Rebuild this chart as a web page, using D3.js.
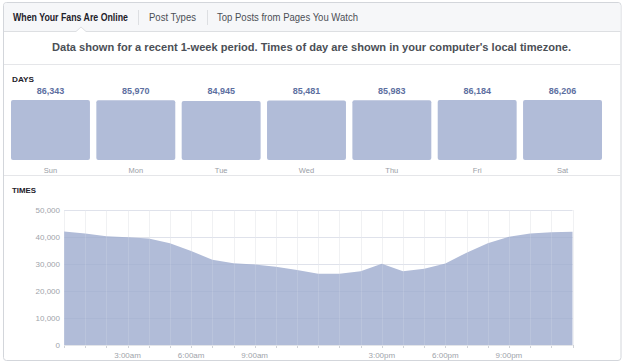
<!DOCTYPE html>
<html><head><meta charset="utf-8">
<script src="https://cdn.jsdelivr.net/npm/d3@7"></script>
<style>
html,body{margin:0;padding:0;background:#fff;}
svg{display:block;font-family:"Liberation Sans",Arial,Helvetica,sans-serif;}
</style></head>
<body>
<script>
const tabs = ["When Your Fans Are Online", "Post Types", "Top Posts from Pages You Watch"];
const note = "Data shown for a recent 1-week period. Times of day are shown in your computer's local timezone.";
const days = ["Sun","Mon","Tue","Wed","Thu","Fri","Sat"];
const dayValues = [86343,85970,84945,85481,85983,86184,86206];
const hours = d3.range(0, 25);
const hourValues = [42000,41300,40300,39900,39400,37700,34800,31600,30300,29800,29000,27800,26400,26400,27300,30100,27300,28200,30200,34200,37700,40100,41300,41800,41900];
const yTicks = [0,10000,20000,30000,40000,50000];
const xLabelHours = [3,6,9,15,18,21];
const xLabels = ["3:00am","6:00am","9:00am","3:00pm","6:00pm","9:00pm"];

const W = 624, H = 363;
const svg = d3.select("body").append("svg").attr("width", W).attr("height", H);

function txt(g, s, x, y, o){
  const t = g.append("text").text(s).attr("x", x).attr("y", y)
    .attr("font-size", o.size).attr("font-weight", o.weight||"normal")
    .attr("fill", o.color).attr("text-anchor", o.anchor||"start")
    .attr("dominant-baseline", "central");
  if (o.width) t.attr("textLength", o.width).attr("lengthAdjust", "spacingAndGlyphs");
  return t;
}

// panel
svg.append("rect").attr("x", 3.5).attr("y", 2.5).attr("width", 617.5).attr("height", 358)
  .attr("rx", 3).attr("fill", "#fff").attr("stroke", "#d3d6db");
// tab bar
svg.append("path").attr("d", "M4,31 V6 Q4,3 7,3 H617 Q620.5,3 620.5,6 V31 Z").attr("fill", "#f6f7f9");
svg.append("path").attr("d", "M4,31.5 H76 L81,27 L86,31.5 H620.5").attr("fill", "#fff").attr("stroke", "#dddfe2");
svg.append("line").attr("x1", 138.5).attr("x2", 138.5).attr("y1", 10).attr("y2", 25).attr("stroke", "#dddfe2");
svg.append("line").attr("x1", 207.5).attr("x2", 207.5).attr("y1", 10).attr("y2", 25).attr("stroke", "#dddfe2");
txt(svg, tabs[0], 13, 17, {size: 10.5, weight: "bold", color: "#1d2129", width: 115});
txt(svg, tabs[1], 149, 17, {size: 10.5, color: "#4b4f56", width: 47});
txt(svg, tabs[2], 217, 17, {size: 10.5, color: "#4b4f56", width: 141});
txt(svg, note, 52, 47, {size: 10.5, weight: "bold", color: "#4b4f56", width: 519});
svg.append("line").attr("x1", 4).attr("x2", 620.5).attr("y1", 64.5).attr("y2", 64.5).attr("stroke", "#e5e6e9");
svg.append("line").attr("x1", 4).attr("x2", 620.5).attr("y1", 175.5).attr("y2", 175.5).attr("stroke", "#e5e6e9");

const barColor = "#b1bcd8";

// DAYS
txt(svg, "DAYS", 12, 79.5, {size: 8, weight: "bold", color: "#1d2129", width: 22});
const xb = d3.scaleBand().domain(days).range([11, 602]).paddingInner(0.075).paddingOuter(0);
const yb = d3.scaleLinear().domain([0, 86343]).range([160, 100]);
const dg = svg.append("g");
dg.selectAll("rect").data(days).join("rect")
  .attr("x", d => xb(d)).attr("width", xb.bandwidth())
  .attr("y", (d,i) => yb(dayValues[i])).attr("height", (d,i) => 160 - yb(dayValues[i]))
  .attr("rx", 2).attr("fill", barColor);
days.forEach((d,i) => {
  txt(dg, d3.format(",")(dayValues[i]), xb(d) + xb.bandwidth()/2, 91, {size: 9, weight: "bold", color: "#5d6f9f", anchor: "middle"});
  txt(dg, d, xb(d) + xb.bandwidth()/2, 170, {size: 7.5, color: "#9a9ea6", anchor: "middle"});
});

// TIMES
txt(svg, "TIMES", 12, 190, {size: 8, weight: "bold", color: "#1d2129", width: 24});
const x = d3.scaleLinear().domain([0, 24]).range([64, 572.5]);
const y = d3.scaleLinear().domain([0, 50000]).range([345, 210]);
const tg = svg.append("g");
// grid
tg.selectAll(".vg").data(hours).join("line").attr("class", "vg")
  .attr("x1", d => Math.round(x(d)) + 0.5).attr("x2", d => Math.round(x(d)) + 0.5)
  .attr("y1", 210).attr("y2", 345).attr("stroke", "#eeeff2");
tg.selectAll(".hg").data(yTicks).join("line").attr("class", "hg")
  .attr("x1", 64).attr("x2", 572.5).attr("y1", d => Math.round(y(d)) + 0.5).attr("y2", d => Math.round(y(d)) + 0.5)
  .attr("stroke", "#eeeff2");
const area = d3.area().x((d,i) => x(hours[i])).y0(y(0)).y1(d => y(d)).curve(d3.curveLinear);
tg.append("path").datum(hourValues).attr("d", area).attr("fill", barColor);
// grid over area (subtle)
tg.selectAll(".hg2").data(yTicks.slice(1)).join("line").attr("class", "hg2")
  .attr("x1", 64).attr("x2", 572.5).attr("y1", d => Math.round(y(d)) + 0.5).attr("y2", d => Math.round(y(d)) + 0.5)
  .attr("stroke", "#8c9bc0").attr("stroke-opacity", 0.15);
tg.selectAll(".vg2").data(hours).join("line").attr("class", "vg2")
  .attr("x1", d => Math.round(x(d)) + 0.5).attr("x2", d => Math.round(x(d)) + 0.5)
  .attr("y1", 210).attr("y2", 345).attr("stroke", "#ffffff").attr("stroke-opacity", 0.12);
// ticks
tg.selectAll(".tk").data(hours).join("line").attr("class", "tk")
  .attr("x1", d => Math.round(x(d)) + 0.5).attr("x2", d => Math.round(x(d)) + 0.5)
  .attr("y1", 345).attr("y2", 348).attr("stroke", "#d0d3d8");
tg.append("line").attr("x1", 64).attr("x2", 572.5).attr("y1", 345.5).attr("y2", 345.5).attr("stroke", "#e3e5e9");
yTicks.forEach(v => txt(tg, d3.format(",")(v), 60, y(v), {size: 8, color: "#a0a4ab", anchor: "end"}));
xLabelHours.forEach((h,i) => txt(tg, xLabels[i], x(h), 355, {size: 8, color: "#a0a4ab", anchor: "middle"}));
</script>
</body></html>
